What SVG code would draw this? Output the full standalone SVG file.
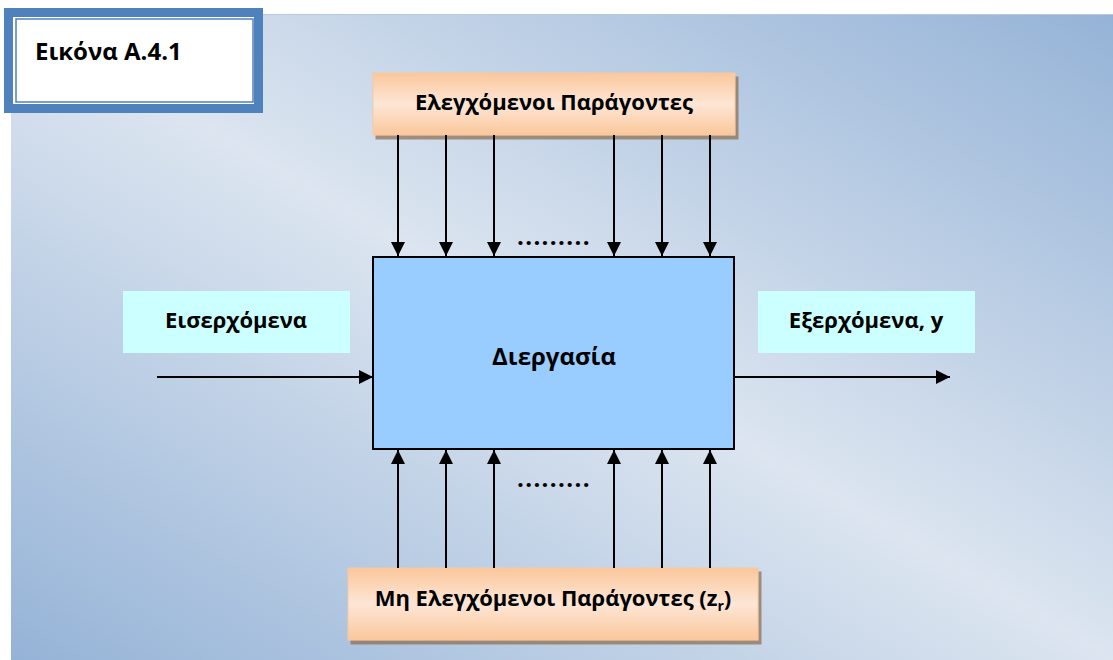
<svg xmlns="http://www.w3.org/2000/svg" width="1113" height="660" viewBox="0 0 1113 660">
<defs>
<linearGradient id="bg" x1="1" y1="0" x2="0" y2="1">
<stop offset="0" stop-color="#95b3d7"/>
<stop offset="0.5" stop-color="#dce5f0"/>
<stop offset="1" stop-color="#95b3d7"/>
</linearGradient>
<linearGradient id="org" x1="0" y1="0" x2="0" y2="1">
<stop offset="0" stop-color="#fbc79b"/>
<stop offset="0.5" stop-color="#fde6d6"/>
<stop offset="1" stop-color="#fbc79b"/>
</linearGradient>
<marker id="ah" viewBox="0 0 10 10" refX="10" refY="5" markerWidth="14" markerHeight="14" markerUnits="userSpaceOnUse" orient="auto">
<path d="M0,0 L10,5 L0,10 Z" fill="#000"/>
</marker>
<filter id="sh" x="-5%" y="-20%" width="115%" height="150%">
<feDropShadow dx="3" dy="4" stdDeviation="0.6" flood-color="#8c6a4a" flood-opacity="0.7"/>
</filter>
</defs>
<style>
text{font-family:"Open Sans","Noto Sans","Liberation Sans",sans-serif;font-weight:bold;fill:#000;}
.conn{stroke:#000;stroke-width:2;fill:none;marker-end:url(#ah);}
.dots{font-size:24px;letter-spacing:1.4px;}
.lbl{font-size:22px;}
</style>
<rect x="11" y="14" width="1102" height="646" fill="url(#bg)"/>
<line x1="11" y1="14.5" x2="1113" y2="14.5" stroke="#b7c8dd" stroke-width="1"/>
<g id="title">
<rect x="8.5" y="12.5" width="250" height="96" fill="#fff" stroke="#4f81bd" stroke-width="9"/>
<rect x="16" y="19" width="237" height="83" fill="#fff" stroke="#4f81bd" stroke-width="1.5"/>
<text x="35" y="60" font-size="24">Εικόνα Α.4.1</text>
</g>
<g id="controlled">
<rect x="373" y="73" width="362" height="62" fill="url(#org)" stroke="#f6c9a3" stroke-width="1" filter="url(#sh)"/>
<text class="lbl" x="554" y="110" text-anchor="middle">Ελεγχόμενοι Παράγοντες</text>
</g>
<g id="uncontrolled">
<rect x="348" y="568" width="410" height="72" fill="url(#org)" stroke="#f6c9a3" stroke-width="1" filter="url(#sh)"/>
<text class="lbl" x="553" y="606" text-anchor="middle">Μη Ελεγχόμενοι Παράγοντες (z<tspan font-size="14" dy="5">r</tspan><tspan dy="-5">)</tspan></text>
</g>
<g id="process">
<rect x="373" y="257" width="361" height="192" fill="#99ccff" stroke="#000" stroke-width="2"/>
<text x="554" y="365" font-size="24" text-anchor="middle">Διεργασία</text>
</g>
<g id="inputs">
<rect x="123" y="291" width="227" height="62" fill="#ccffff"/>
<text class="lbl" x="236" y="328" text-anchor="middle">Εισερχόμενα</text>
</g>
<g id="outputs">
<rect x="758" y="291" width="217" height="62" fill="#ccffff"/>
<text class="lbl" x="866" y="328" text-anchor="middle">Εξερχόμενα, y</text>
</g>
<g id="connectors">
<line class="conn" x1="157" y1="377" x2="373" y2="377"/>
<line class="conn" x1="734" y1="377" x2="950" y2="377"/>
<line class="conn" x1="398" y1="135" x2="398" y2="256"/>
<line class="conn" x1="446" y1="135" x2="446" y2="256"/>
<line class="conn" x1="494" y1="135" x2="494" y2="256"/>
<line class="conn" x1="614" y1="135" x2="614" y2="256"/>
<line class="conn" x1="662" y1="135" x2="662" y2="256"/>
<line class="conn" x1="710" y1="135" x2="710" y2="256"/>
<line class="conn" x1="398" y1="568" x2="398" y2="450"/>
<line class="conn" x1="446" y1="568" x2="446" y2="450"/>
<line class="conn" x1="494" y1="568" x2="494" y2="450"/>
<line class="conn" x1="614" y1="568" x2="614" y2="450"/>
<line class="conn" x1="662" y1="568" x2="662" y2="450"/>
<line class="conn" x1="710" y1="568" x2="710" y2="450"/>
<text class="dots" x="554" y="245" text-anchor="middle">.........</text>
<text class="dots" x="554" y="487" text-anchor="middle">.........</text>
</g>
</svg>
